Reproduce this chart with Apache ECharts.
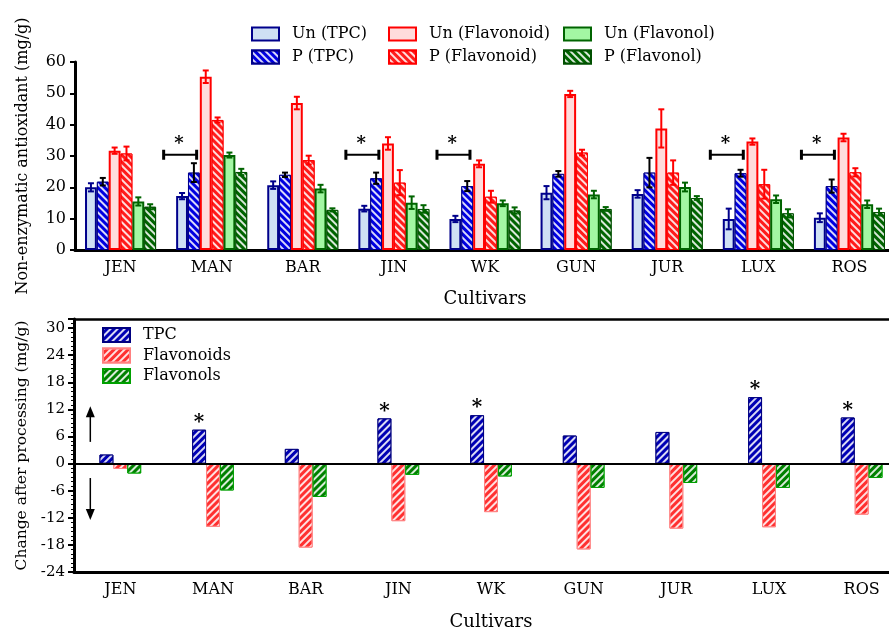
<!DOCTYPE html>
<html><head><meta charset="utf-8">
<script src="https://cdn.jsdelivr.net/npm/echarts@6/dist/echarts.min.js"></script>
<style>html,body{margin:0;padding:0;background:#fff}#c{width:889px;height:631px}</style>
</head><body><div id="c"></div>
<script>
// ---------- data ----------
const cultivars = ['JEN','MAN','BAR','JIN','WK','GUN','JUR','LUX','ROS'];
const unTPC          = [20.0,17.2,20.7,13.2, 9.9,18.3,17.9, 9.9,10.3];
const unTPCErr       = [ 1.3, 1.0, 1.2, 0.9, 1.0, 2.1, 1.2, 3.3, 1.4];
const pTPC           = [21.8,24.7,24.0,22.9,20.4,24.3,24.7,24.5,20.4];
const pTPCErr        = [ 1.2, 3.0, 0.7, 1.8, 1.6, 0.9, 4.7, 1.1, 2.1];
const unFlavonoid    = [31.7,55.3,46.9,34.0,27.5,49.8,38.8,34.6,35.9];
const unFlavonoidErr = [ 1.0, 2.0, 2.0, 2.0, 1.1, 1.0, 6.1, 1.0, 1.2];
const pFlavonoid     = [30.8,41.5,28.7,21.5,17.0,31.1,24.7,21.0,24.8];
const pFlavonoidErr  = [ 2.2, 0.8, 1.4, 4.0, 1.9, 0.9, 3.9, 4.6, 1.3];
const unFlavonol     = [15.5,30.3,19.6,15.1,14.9,17.7,20.1,16.2,14.6];
const unFlavonolErr  = [ 1.3, 0.8, 1.2, 2.0, 0.9, 1.2, 1.4, 1.2, 1.2];
const pFlavonol      = [13.8,24.9,12.8,13.1,12.6,13.1,16.6,11.7,12.1];
const pFlavonolErr   = [ 0.8, 1.0, 0.5, 1.2, 1.0, 0.6, 0.6, 1.3, 1.1];
const sigCultivars = ['MAN','JIN','WK','LUX','ROS'];
const bracketLevel = 30.4;
const changeTPC        = [2.0, 7.5, 3.25, 10.0, 10.7, 6.2, 7.0, 14.7, 10.2];
const changeFlavonoids = [-1.2,-14.0,-18.6,-12.75,-10.75,-19.0,-14.4,-14.1,-11.3];
const changeFlavonols  = [-2.2,-5.95,-7.4,-2.5,-2.85,-5.4,-4.3,-5.4,-3.2];
const bottomYTicks = [-24,-18,-12,-6,0,6,12,18,24,30];
const arrowSpans = [[4.8,12.7],[-3.2,-12.5]];

// ---------- styles ----------
const FONT = 'DejaVu Serif';
const topGapPct = 0.22;
const hatch = (rot) => ({symbol:'rect', symbolSize:1, color:'rgba(255,255,255,0.85)', dashArrayX:[1,0], dashArrayY:[1.5,3], rotation:rot});
const topNames = ['Un (TPC)','P (TPC)','Un (Flavonoid)','P (Flavonoid)','Un (Flavonol)','P (Flavonol)'];
const topVals = [unTPC,pTPC,unFlavonoid,pFlavonoid,unFlavonol,pFlavonol];
const topErrs = [unTPCErr,pTPCErr,unFlavonoidErr,pFlavonoidErr,unFlavonolErr,pFlavonolErr];
const topHatch = hatch(Math.PI/4);
const topStyles = [
  {color:'#cfe0f4', borderColor:'#00008b', borderWidth:2},
  {color:'#0000e0', borderColor:'#00008b', borderWidth:1, decal:topHatch},
  {color:'#ffdcdc', borderColor:'#ff0000', borderWidth:2},
  {color:'#ff1c1c', borderColor:'#ff0000', borderWidth:1, decal:topHatch},
  {color:'#a3f7a3', borderColor:'#006400', borderWidth:2},
  {color:'#006400', borderColor:'#005000', borderWidth:1, decal:topHatch}
];
const errColors = ['#00008b','#000000','#ff0000','#ff0000','#006400','#006400'];

const errData = [];
topVals.forEach((arr,s)=>arr.forEach((v,c)=>errData.push([c, v, topErrs[s][c], s])));

function renderErr(params, api){
  const c = api.value(0), v = api.value(1), e = api.value(2), s = api.value(3);
  const band = api.size([1,0])[0];
  const bw = band*(1-topGapPct)/6;
  const x = api.coord([c, v])[0] + (s-2.5)*bw;
  const yt = api.coord([c, v+e])[1], yb = api.coord([c, v-e])[1];
  const st = {stroke:errColors[s], lineWidth:2};
  const cap = 3;
  return {type:'group', children:[
    {type:'line', shape:{x1:x,y1:yt,x2:x,y2:yb}, style:st},
    {type:'line', shape:{x1:x-cap,y1:yt,x2:x+cap,y2:yt}, style:st},
    {type:'line', shape:{x1:x-cap,y1:yb,x2:x+cap,y2:yb}, style:st}
  ]};
}
function renderBracket(params, api){
  const c = api.value(0), v = api.value(1);
  const band = api.size([1,0])[0];
  const p = api.coord([c, v]);
  const x1 = p[0] - 0.527*band, x2 = p[0] - 0.165*band, y = p[1];
  const st = {stroke:'#000', lineWidth:2};
  return {type:'group', children:[
    {type:'line', shape:{x1:x1,y1:y,x2:x2,y2:y}, style:st},
    {type:'line', shape:{x1:x1,y1:y-5,x2:x1,y2:y+5}, style:{stroke:'#000', lineWidth:3}},
    {type:'line', shape:{x1:x2,y1:y-5,x2:x2,y2:y+5}, style:{stroke:'#000', lineWidth:3}},
    {type:'text', style:{text:'*', x:p[0]-0.36*band, y:y-1, align:'center', verticalAlign:'bottom', font:'bold 18px '+FONT, fill:'#000'}}
  ]};
}
function renderArrow(params, api){
  const from = api.value(1), to = api.value(2);
  const band = api.size([1,0])[0];
  const x = api.coord([0, 0])[0] - 0.324*band;
  const y1 = api.coord([0, from])[1], y2 = api.coord([0, to])[1];
  const dir = y2 < y1 ? 1 : -1;
  return {type:'group', children:[
    {type:'line', shape:{x1:x,y1:y1,x2:x,y2:y2+dir*8}, style:{stroke:'#000', lineWidth:1.5}},
    {type:'polygon', shape:{points:[[x,y2],[x-4.5,y2+dir*11],[x+4.5,y2+dir*11]]}, style:{fill:'#000'}}
  ]};
}

const series = [];
topNames.forEach((n,i)=>series.push({
  name:n, type:'bar', xAxisIndex:0, yAxisIndex:0, data:topVals[i],
  barGap:'0%', barCategoryGap:(topGapPct*100)+'%', itemStyle:topStyles[i]
}));
series.push({type:'custom', xAxisIndex:0, yAxisIndex:0, data:errData, renderItem:renderErr, z:10, silent:true});
series.push({type:'custom', xAxisIndex:0, yAxisIndex:0, data:sigCultivars.map(n=>[cultivars.indexOf(n), bracketLevel]), renderItem:renderBracket, z:10, silent:true});

const botHatch = hatch(-Math.PI/4);
series.push({name:'TPC', type:'bar', xAxisIndex:1, yAxisIndex:1, data:changeTPC, barGap:'0%', barCategoryGap:'55%',
  itemStyle:{color:'#0000b4', borderColor:'#000080', borderWidth:1, decal:botHatch},
  label:{show:true, position:'top', distance:-3, formatter:p=>sigCultivars.includes(p.name)?'*':'', fontSize:20, fontWeight:'bold', color:'#000', fontFamily:FONT},
  markLine:{silent:true, symbol:['none','none'], label:{show:false}, lineStyle:{color:'#000', width:2, type:'solid'}, data:[{yAxis:0}]}
});
series.push({name:'Flavonoids', type:'bar', xAxisIndex:1, yAxisIndex:1, data:changeFlavonoids, barGap:'0%', barCategoryGap:'55%',
  itemStyle:{color:'#ff3030', borderColor:'#ff8080', borderWidth:1, decal:botHatch}});
series.push({name:'Flavonols', type:'bar', xAxisIndex:1, yAxisIndex:1, data:changeFlavonols, barGap:'0%', barCategoryGap:'55%',
  itemStyle:{color:'#008000', borderColor:'#00a000', borderWidth:1, decal:botHatch}});
series.push({type:'custom', xAxisIndex:1, yAxisIndex:1, data:arrowSpans.map(a=>[0,a[0],a[1]]), renderItem:renderArrow, z:10, silent:true});

const axisTxt = {fontFamily:FONT, fontSize:16, color:'#000'};
const nameTxt = {fontFamily:FONT, fontSize:18, color:'#000'};
const legendBase = {orient:'vertical', icon:'rect', padding:0, itemWidth:27, itemHeight:13, itemGap:7,
  textStyle:{fontFamily:FONT, fontSize:16, color:'#000', lineHeight:16, padding:[0,0,0,8]}, selectedMode:false};

const option = {
  animation:false,
  textStyle:{fontFamily:FONT},
  legend:[
    Object.assign({}, legendBase, {left:251, top:26, data:['Un (TPC)','P (TPC)']}),
    Object.assign({}, legendBase, {left:388, top:26, data:['Un (Flavonoid)','P (Flavonoid)']}),
    Object.assign({}, legendBase, {left:563, top:26, data:['Un (Flavonol)','P (Flavonol)']}),
    Object.assign({}, legendBase, {left:102, top:327, itemHeight:14, itemGap:4.5, data:['TPC','Flavonoids','Flavonols']})
  ],
  grid:[
    {left:75, right:-6, top:62, bottom:381, outerBoundsMode:'none', containLabel:false},
    {left:74, right:-19, top:319, bottom:59, outerBoundsMode:'none', containLabel:false}
  ],
  xAxis:[
    {gridIndex:0, type:'category', data:cultivars,
     axisLine:{lineStyle:{color:'#000', width:3}}, axisTick:{alignWithLabel:true, length:6, lineStyle:{color:'#000', width:3}},
     axisLabel:Object.assign({margin:10}, axisTxt),
     name:'Cultivars', nameLocation:'middle', nameGap:40, nameTextStyle:nameTxt},
    {gridIndex:1, type:'category', data:cultivars,
     axisLine:{onZero:false, lineStyle:{color:'#000', width:3}}, axisTick:{alignWithLabel:true, length:6, lineStyle:{color:'#000', width:3}},
     axisLabel:Object.assign({margin:10}, axisTxt),
     name:'Cultivars', nameLocation:'middle', nameGap:41, nameTextStyle:nameTxt},
    {gridIndex:1, type:'category', data:cultivars, position:'top',
     axisLine:{onZero:false, lineStyle:{color:'#000', width:2.5}}, axisTick:{show:false}, axisLabel:{show:false}}
  ],
  yAxis:[
    {gridIndex:0, type:'value', min:0, max:60, interval:10,
     axisLine:{show:true, lineStyle:{color:'#000', width:3}}, axisTick:{show:true, length:5, lineStyle:{color:'#000', width:2}},
     splitLine:{show:false}, axisLabel:Object.assign({margin:9}, axisTxt),
     name:'Non-enzymatic antioxidant (mg/g)', nameLocation:'middle', nameGap:44, nameTextStyle:Object.assign({}, nameTxt, {fontSize:16})},
    {gridIndex:1, type:'value', min:-24, max:32, interval:6,
     axisLine:{show:true, onZero:false, lineStyle:{color:'#000', width:3}},
     axisTick:{show:true, length:6, lineStyle:{color:'#000', width:2}},
     minorTick:{show:true, splitNumber:6, length:3, lineStyle:{color:'#000', width:1}},
     splitLine:{show:false}, axisLabel:Object.assign({margin:9, customValues:bottomYTicks}, axisTxt, {fontSize:15}),
     name:'Change after processing (mg/g)', nameLocation:'middle', nameGap:44, nameTextStyle:Object.assign({}, nameTxt, {fontSize:15.5})}
  ],
  series:series
};
const chart = echarts.init(document.getElementById('c'), null, {renderer:'canvas'});
chart.setOption(option);
</script></body></html>
